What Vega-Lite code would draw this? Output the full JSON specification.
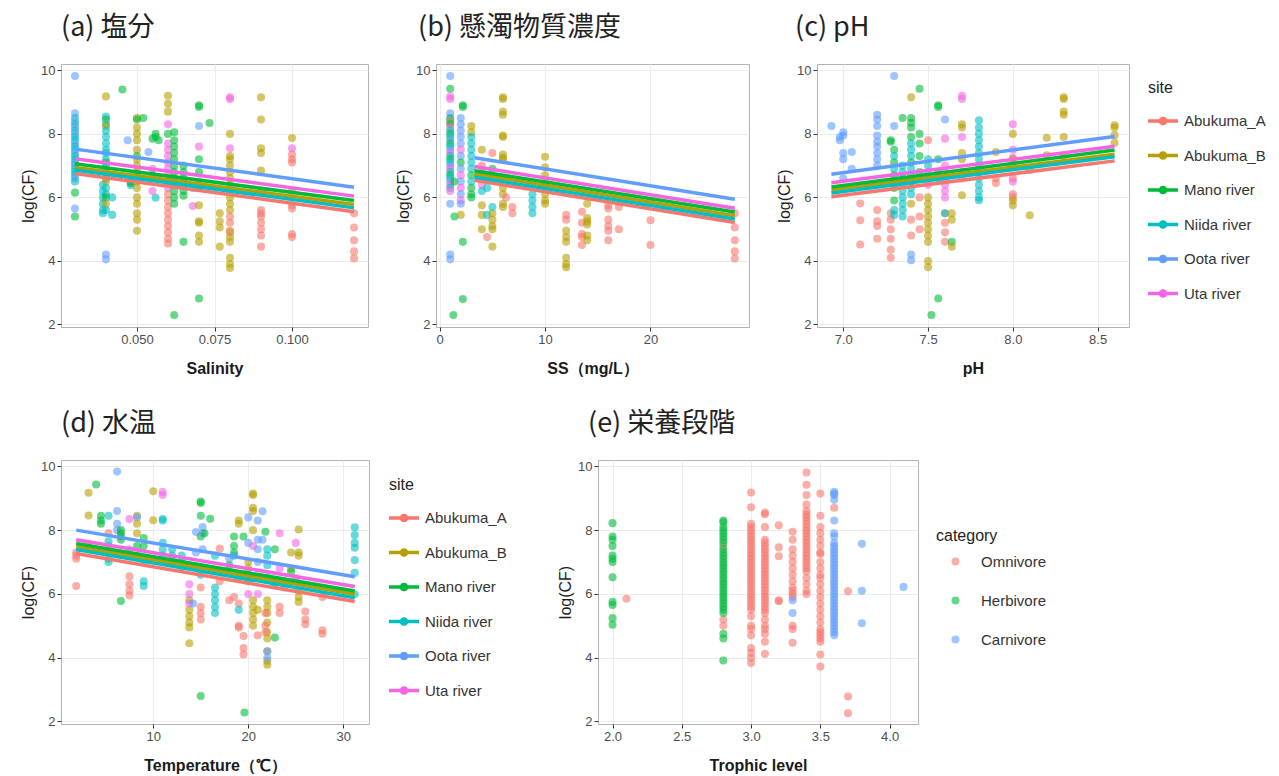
{
"$schema":"https://vega.github.io/schema/vega-lite/v6.json",
"background":"white",
"padding":{"left":20,"top":13,"right":5,"bottom":5},
"config":{
 "font":"Liberation Sans",
 "view":{"stroke":"#b3b3b3","strokeWidth":1},
 "axis":{"domain":false,"grid":true,"gridColor":"#ebebeb","gridWidth":1,"tickColor":"#333333","tickSize":4,"labelColor":"#4d4d4d","labelFontSize":13,"labelPadding":2,"titleFontSize":16,"titleColor":"#1a1a1a","titleFontWeight":"normal"},
 "axisX":{"titleFontWeight":"bold","titlePadding":14},
 "axisY":{"titlePadding":4},
 "title":{"font":"Noto Sans CJK JP","fontSize":27,"fontWeight":"normal","anchor":"start","color":"#222222","frame":"group","offset":22},
 "legend":{"titleFontSize":16,"titleFontWeight":"normal","titleColor":"#222222","labelFontSize":15,"labelColor":"#333333","titlePadding":10}
},
"datasets":{
"a_pts":[
{"x":0.03,"y":9.82,"site":"Oota river"},{"x":0.03,"y":8.65,"site":"Oota river"},{"x":0.03,"y":8.5,"site":"Niida river"},{"x":0.03,"y":8.4,"site":"Oota river"},{"x":0.03,"y":8.3,"site":"Niida river"},{"x":0.03,"y":8.2,"site":"Oota river"},{"x":0.03,"y":8.1,"site":"Niida river"},{"x":0.03,"y":8.0,"site":"Oota river"},{"x":0.03,"y":7.9,"site":"Niida river"},{"x":0.03,"y":7.8,"site":"Niida river"},{"x":0.03,"y":7.7,"site":"Oota river"},{"x":0.03,"y":7.6,"site":"Niida river"},{"x":0.03,"y":7.5,"site":"Niida river"},{"x":0.03,"y":7.4,"site":"Oota river"},{"x":0.03,"y":7.3,"site":"Niida river"},{"x":0.03,"y":7.2,"site":"Niida river"},{"x":0.03,"y":7.1,"site":"Niida river"},{"x":0.03,"y":7.0,"site":"Oota river"},{"x":0.03,"y":6.9,"site":"Niida river"},{"x":0.03,"y":6.8,"site":"Niida river"},{"x":0.03,"y":6.7,"site":"Niida river"},{"x":0.03,"y":6.6,"site":"Oota river"},{"x":0.03,"y":6.5,"site":"Niida river"},{"x":0.03,"y":6.15,"site":"Mano river"},{"x":0.03,"y":5.65,"site":"Oota river"},{"x":0.03,"y":5.4,"site":"Mano river"},
{"x":0.039,"y":6.4,"site":"Niida river"},{"x":0.039,"y":6.2,"site":"Niida river"},{"x":0.039,"y":6.0,"site":"Niida river"},{"x":0.039,"y":5.8,"site":"Niida river"},{"x":0.039,"y":5.6,"site":"Niida river"},{"x":0.039,"y":5.5,"site":"Niida river"},
{"x":0.04,"y":9.18,"site":"Abukuma_B"},{"x":0.04,"y":8.55,"site":"Niida river"},{"x":0.04,"y":8.45,"site":"Mano river"},{"x":0.04,"y":8.3,"site":"Niida river"},{"x":0.04,"y":8.25,"site":"Abukuma_B"},{"x":0.04,"y":8.1,"site":"Niida river"},{"x":0.04,"y":7.9,"site":"Niida river"},{"x":0.04,"y":7.7,"site":"Niida river"},{"x":0.04,"y":7.5,"site":"Niida river"},{"x":0.04,"y":7.4,"site":"Niida river"},{"x":0.04,"y":7.2,"site":"Niida river"},{"x":0.04,"y":7.1,"site":"Mano river"},{"x":0.04,"y":7.0,"site":"Niida river"},{"x":0.04,"y":6.8,"site":"Niida river"},{"x":0.04,"y":6.6,"site":"Niida river"},{"x":0.04,"y":6.5,"site":"Abukuma_B"},{"x":0.04,"y":6.3,"site":"Niida river"},{"x":0.04,"y":6.1,"site":"Niida river"},{"x":0.04,"y":6.0,"site":"Mano river"},{"x":0.04,"y":5.8,"site":"Abukuma_B"},{"x":0.04,"y":5.6,"site":"Niida river"},{"x":0.04,"y":4.2,"site":"Oota river"},{"x":0.04,"y":4.05,"site":"Oota river"},
{"x":0.042,"y":6.0,"site":"Niida river"},{"x":0.042,"y":5.45,"site":"Niida river"},{"x":0.0453,"y":9.4,"site":"Mano river"},{"x":0.047,"y":7.8,"site":"Oota river"},{"x":0.048,"y":6.5,"site":"Niida river"},{"x":0.048,"y":6.38,"site":"Niida river"},{"x":0.048,"y":6.45,"site":"Mano river"},
{"x":0.05,"y":8.5,"site":"Abukuma_B"},{"x":0.05,"y":8.45,"site":"Mano river"},{"x":0.05,"y":8.2,"site":"Abukuma_B"},{"x":0.05,"y":8.0,"site":"Abukuma_B"},{"x":0.05,"y":7.8,"site":"Abukuma_B"},{"x":0.05,"y":7.5,"site":"Abukuma_B"},{"x":0.05,"y":7.3,"site":"Mano river"},{"x":0.05,"y":7.2,"site":"Abukuma_B"},{"x":0.05,"y":7.0,"site":"Abukuma_B"},{"x":0.05,"y":6.8,"site":"Abukuma_B"},{"x":0.05,"y":6.7,"site":"Niida river"},{"x":0.05,"y":6.5,"site":"Abukuma_B"},{"x":0.05,"y":6.3,"site":"Abukuma_B"},{"x":0.05,"y":6.0,"site":"Abukuma_B"},{"x":0.05,"y":5.8,"site":"Abukuma_B"},{"x":0.05,"y":5.5,"site":"Abukuma_B"},{"x":0.05,"y":5.3,"site":"Abukuma_B"},{"x":0.05,"y":4.95,"site":"Abukuma_B"},
{"x":0.052,"y":8.5,"site":"Mano river"},{"x":0.0537,"y":7.43,"site":"Oota river"},{"x":0.055,"y":7.85,"site":"Mano river"},{"x":0.055,"y":6.9,"site":"Uta river"},{"x":0.055,"y":6.7,"site":"Mano river"},{"x":0.055,"y":6.2,"site":"Uta river"},{"x":0.056,"y":8.0,"site":"Mano river"},{"x":0.056,"y":5.99,"site":"Niida river"},{"x":0.056,"y":7.9,"site":"Mano river"},{"x":0.057,"y":7.8,"site":"Mano river"},{"x":0.057,"y":6.6,"site":"Abukuma_A"},
{"x":0.06,"y":9.2,"site":"Abukuma_B"},{"x":0.06,"y":8.95,"site":"Abukuma_B"},{"x":0.06,"y":8.7,"site":"Abukuma_B"},{"x":0.06,"y":8.3,"site":"Uta river"},{"x":0.06,"y":8.0,"site":"Mano river"},{"x":0.06,"y":7.7,"site":"Uta river"},{"x":0.06,"y":7.5,"site":"Uta river"},{"x":0.06,"y":7.3,"site":"Uta river"},{"x":0.06,"y":7.1,"site":"Uta river"},{"x":0.06,"y":6.9,"site":"Uta river"},{"x":0.06,"y":6.7,"site":"Uta river"},{"x":0.06,"y":6.5,"site":"Uta river"},{"x":0.06,"y":6.3,"site":"Uta river"},{"x":0.06,"y":6.1,"site":"Abukuma_A"},{"x":0.06,"y":5.9,"site":"Abukuma_A"},{"x":0.06,"y":5.7,"site":"Abukuma_A"},{"x":0.06,"y":5.5,"site":"Abukuma_A"},{"x":0.06,"y":5.3,"site":"Abukuma_A"},{"x":0.06,"y":5.1,"site":"Abukuma_A"},{"x":0.06,"y":4.9,"site":"Abukuma_A"},{"x":0.06,"y":4.7,"site":"Abukuma_A"},{"x":0.06,"y":4.55,"site":"Abukuma_A"},
{"x":0.062,"y":8.05,"site":"Mano river"},{"x":0.062,"y":7.8,"site":"Mano river"},{"x":0.062,"y":7.6,"site":"Mano river"},{"x":0.062,"y":7.4,"site":"Mano river"},{"x":0.062,"y":7.2,"site":"Mano river"},{"x":0.062,"y":7.0,"site":"Mano river"},{"x":0.062,"y":6.8,"site":"Mano river"},{"x":0.062,"y":6.6,"site":"Mano river"},{"x":0.062,"y":6.4,"site":"Mano river"},{"x":0.062,"y":6.2,"site":"Mano river"},{"x":0.062,"y":6.0,"site":"Mano river"},{"x":0.062,"y":5.8,"site":"Mano river"},{"x":0.062,"y":2.3,"site":"Mano river"},
{"x":0.065,"y":7.0,"site":"Mano river"},{"x":0.065,"y":6.8,"site":"Mano river"},{"x":0.065,"y":6.6,"site":"Mano river"},{"x":0.065,"y":6.5,"site":"Niida river"},{"x":0.065,"y":6.4,"site":"Mano river"},{"x":0.065,"y":6.2,"site":"Mano river"},{"x":0.065,"y":6.05,"site":"Mano river"},{"x":0.065,"y":4.6,"site":"Mano river"},
{"x":0.068,"y":5.73,"site":"Uta river"},{"x":0.068,"y":6.3,"site":"Niida river"},
{"x":0.07,"y":8.9,"site":"Mano river"},{"x":0.07,"y":8.85,"site":"Mano river"},{"x":0.07,"y":8.25,"site":"Oota river"},{"x":0.07,"y":7.6,"site":"Uta river"},{"x":0.07,"y":7.2,"site":"Mano river"},{"x":0.07,"y":6.8,"site":"Mano river"},{"x":0.07,"y":6.5,"site":"Uta river"},{"x":0.07,"y":6.3,"site":"Mano river"},{"x":0.07,"y":5.75,"site":"Abukuma_B"},{"x":0.07,"y":5.25,"site":"Abukuma_B"},{"x":0.07,"y":5.2,"site":"Abukuma_B"},{"x":0.07,"y":4.8,"site":"Abukuma_B"},{"x":0.07,"y":4.6,"site":"Abukuma_B"},{"x":0.07,"y":2.82,"site":"Mano river"},
{"x":0.0734,"y":8.34,"site":"Mano river"},
{"x":0.0767,"y":5.5,"site":"Abukuma_B"},{"x":0.0767,"y":5.25,"site":"Abukuma_B"},{"x":0.0767,"y":5.05,"site":"Abukuma_B"},{"x":0.0767,"y":4.45,"site":"Abukuma_B"},
{"x":0.08,"y":9.15,"site":"Uta river"},{"x":0.08,"y":9.1,"site":"Uta river"},{"x":0.08,"y":8.0,"site":"Abukuma_B"},{"x":0.08,"y":7.55,"site":"Uta river"},{"x":0.08,"y":7.3,"site":"Abukuma_B"},{"x":0.08,"y":7.2,"site":"Abukuma_B"},{"x":0.08,"y":7.0,"site":"Abukuma_B"},{"x":0.08,"y":6.8,"site":"Abukuma_B"},{"x":0.08,"y":6.6,"site":"Abukuma_B"},{"x":0.08,"y":6.4,"site":"Abukuma_B"},{"x":0.08,"y":6.2,"site":"Abukuma_B"},{"x":0.08,"y":6.0,"site":"Abukuma_B"},{"x":0.08,"y":5.8,"site":"Abukuma_B"},{"x":0.08,"y":5.6,"site":"Abukuma_B"},{"x":0.08,"y":5.4,"site":"Abukuma_A"},{"x":0.08,"y":5.2,"site":"Abukuma_A"},{"x":0.08,"y":4.95,"site":"Abukuma_B"},{"x":0.08,"y":4.9,"site":"Abukuma_A"},{"x":0.08,"y":4.75,"site":"Abukuma_B"},{"x":0.08,"y":4.6,"site":"Abukuma_B"},{"x":0.08,"y":4.1,"site":"Abukuma_B"},{"x":0.08,"y":3.9,"site":"Abukuma_B"},{"x":0.08,"y":3.78,"site":"Abukuma_B"},
{"x":0.09,"y":9.15,"site":"Abukuma_B"},{"x":0.09,"y":8.45,"site":"Abukuma_B"},{"x":0.09,"y":7.55,"site":"Abukuma_B"},{"x":0.09,"y":7.4,"site":"Abukuma_B"},{"x":0.09,"y":6.85,"site":"Abukuma_B"},{"x":0.09,"y":6.2,"site":"Abukuma_A"},{"x":0.09,"y":5.6,"site":"Abukuma_A"},{"x":0.09,"y":5.5,"site":"Abukuma_A"},{"x":0.09,"y":5.4,"site":"Abukuma_A"},{"x":0.09,"y":5.2,"site":"Abukuma_A"},{"x":0.09,"y":5.0,"site":"Abukuma_A"},{"x":0.09,"y":4.8,"site":"Abukuma_A"},{"x":0.09,"y":4.45,"site":"Abukuma_A"},
{"x":0.1,"y":7.87,"site":"Abukuma_B"},{"x":0.1,"y":7.55,"site":"Uta river"},{"x":0.1,"y":7.35,"site":"Abukuma_A"},{"x":0.1,"y":7.2,"site":"Abukuma_A"},{"x":0.1,"y":7.1,"site":"Abukuma_A"},{"x":0.1,"y":6.2,"site":"Abukuma_A"},{"x":0.1,"y":5.75,"site":"Abukuma_A"},{"x":0.1,"y":5.65,"site":"Abukuma_A"},{"x":0.1,"y":4.85,"site":"Abukuma_A"},{"x":0.1,"y":4.75,"site":"Abukuma_A"},
{"x":0.12,"y":5.5,"site":"Abukuma_A"},{"x":0.12,"y":5.05,"site":"Abukuma_A"},{"x":0.12,"y":4.65,"site":"Abukuma_A"},{"x":0.12,"y":4.3,"site":"Abukuma_A"},{"x":0.12,"y":4.08,"site":"Abukuma_A"}
],
"a_fit":[
{"x":0.03,"y":6.75,"site":"Abukuma_A"},{"x":0.12,"y":5.55,"site":"Abukuma_A"},
{"x":0.03,"y":6.94,"site":"Abukuma_B"},{"x":0.12,"y":5.78,"site":"Abukuma_B"},
{"x":0.03,"y":7.06,"site":"Mano river"},{"x":0.12,"y":5.9,"site":"Mano river"},
{"x":0.03,"y":6.86,"site":"Niida river"},{"x":0.12,"y":5.67,"site":"Niida river"},
{"x":0.03,"y":7.52,"site":"Oota river"},{"x":0.12,"y":6.32,"site":"Oota river"},
{"x":0.03,"y":7.22,"site":"Uta river"},{"x":0.12,"y":6.04,"site":"Uta river"}
],
"b_pts":[
{"x":1,"y":9.82,"site":"Oota river"},{"x":1,"y":9.42,"site":"Mano river"},{"x":1,"y":9.18,"site":"Uta river"},{"x":1,"y":9.1,"site":"Uta river"},{"x":1,"y":8.65,"site":"Oota river"},{"x":1,"y":8.5,"site":"Mano river"},{"x":1,"y":8.45,"site":"Oota river"},{"x":1,"y":8.37,"site":"Abukuma_B"},{"x":1,"y":8.3,"site":"Mano river"},{"x":1,"y":8.2,"site":"Uta river"},{"x":1,"y":8.1,"site":"Niida river"},{"x":1,"y":8.0,"site":"Mano river"},{"x":1,"y":7.9,"site":"Niida river"},{"x":1,"y":7.8,"site":"Oota river"},{"x":1,"y":7.7,"site":"Mano river"},{"x":1,"y":7.6,"site":"Niida river"},{"x":1,"y":7.5,"site":"Oota river"},{"x":1,"y":7.4,"site":"Uta river"},{"x":1,"y":7.3,"site":"Niida river"},{"x":1,"y":7.2,"site":"Mano river"},{"x":1,"y":7.1,"site":"Niida river"},{"x":1,"y":7.0,"site":"Oota river"},{"x":1,"y":6.9,"site":"Uta river"},{"x":1,"y":6.8,"site":"Niida river"},{"x":1,"y":6.7,"site":"Mano river"},{"x":1,"y":6.6,"site":"Niida river"},{"x":1,"y":6.5,"site":"Oota river"},{"x":1,"y":6.4,"site":"Uta river"},{"x":1,"y":6.3,"site":"Niida river"},{"x":1,"y":6.2,"site":"Uta river"},{"x":1,"y":5.8,"site":"Oota river"},{"x":1,"y":4.2,"site":"Oota river"},{"x":1,"y":4.05,"site":"Oota river"},
{"x":1.3,"y":2.3,"site":"Mano river"},{"x":1.4,"y":5.4,"site":"Mano river"},{"x":1.4,"y":6.5,"site":"Mano river"},
{"x":2,"y":8.5,"site":"Oota river"},{"x":2,"y":8.3,"site":"Oota river"},{"x":2,"y":8.1,"site":"Oota river"},{"x":2,"y":7.9,"site":"Oota river"},{"x":2,"y":7.7,"site":"Oota river"},{"x":2,"y":7.5,"site":"Uta river"},{"x":2,"y":7.3,"site":"Oota river"},{"x":2,"y":7.1,"site":"Mano river"},{"x":2,"y":6.9,"site":"Oota river"},{"x":2,"y":6.7,"site":"Uta river"},{"x":2,"y":6.5,"site":"Oota river"},{"x":2,"y":6.3,"site":"Uta river"},{"x":2,"y":6.1,"site":"Oota river"},{"x":2,"y":5.9,"site":"Uta river"},{"x":2,"y":5.8,"site":"Oota river"},{"x":2,"y":5.45,"site":"Abukuma_B"},
{"x":2.2,"y":8.9,"site":"Mano river"},{"x":2.2,"y":8.85,"site":"Mano river"},{"x":2.2,"y":4.6,"site":"Mano river"},{"x":2.2,"y":2.8,"site":"Mano river"},
{"x":3,"y":8.25,"site":"Abukuma_B"},{"x":3,"y":8.05,"site":"Abukuma_B"},{"x":3,"y":7.9,"site":"Niida river"},{"x":3,"y":7.7,"site":"Niida river"},{"x":3,"y":7.5,"site":"Niida river"},{"x":3,"y":7.3,"site":"Niida river"},{"x":3,"y":7.1,"site":"Niida river"},{"x":3,"y":6.9,"site":"Niida river"},{"x":3,"y":6.7,"site":"Mano river"},{"x":3,"y":6.5,"site":"Niida river"},{"x":3,"y":6.3,"site":"Mano river"},{"x":3,"y":6.1,"site":"Mano river"},{"x":3,"y":6.0,"site":"Mano river"},
{"x":4,"y":7.5,"site":"Abukuma_B"},{"x":4,"y":7.0,"site":"Abukuma_A"},{"x":4,"y":6.8,"site":"Uta river"},{"x":4,"y":6.6,"site":"Uta river"},{"x":4,"y":6.4,"site":"Uta river"},{"x":4,"y":6.2,"site":"Niida river"},{"x":4,"y":5.75,"site":"Abukuma_B"},{"x":4,"y":5.45,"site":"Abukuma_B"},{"x":4,"y":5.0,"site":"Abukuma_B"},
{"x":4.5,"y":4.75,"site":"Abukuma_A"},{"x":4.5,"y":6.3,"site":"Niida river"},{"x":4.5,"y":5.45,"site":"Niida river"},{"x":4.5,"y":6.6,"site":"Mano river"},
{"x":5,"y":7.4,"site":"Abukuma_A"},{"x":5,"y":6.9,"site":"Mano river"},{"x":5,"y":6.6,"site":"Niida river"},{"x":5,"y":5.5,"site":"Abukuma_B"},{"x":5,"y":5.3,"site":"Abukuma_B"},{"x":5,"y":5.1,"site":"Abukuma_B"},{"x":5,"y":5.0,"site":"Abukuma_B"},{"x":5,"y":4.45,"site":"Abukuma_B"},{"x":5,"y":5.7,"site":"Niida river"},
{"x":6,"y":9.15,"site":"Abukuma_B"},{"x":6,"y":9.1,"site":"Abukuma_B"},{"x":6,"y":8.7,"site":"Abukuma_B"},{"x":6,"y":8.6,"site":"Abukuma_B"},{"x":6,"y":7.95,"site":"Abukuma_B"},{"x":6,"y":7.9,"site":"Abukuma_B"},{"x":6,"y":7.35,"site":"Abukuma_B"},{"x":6,"y":7.25,"site":"Abukuma_B"},{"x":6,"y":7.2,"site":"Abukuma_B"},{"x":6,"y":6.6,"site":"Abukuma_B"},{"x":6,"y":6.3,"site":"Abukuma_B"},{"x":6,"y":6.1,"site":"Abukuma_B"},{"x":6,"y":5.8,"site":"Abukuma_B"},{"x":6,"y":5.7,"site":"Abukuma_B"},
{"x":6.3,"y":6.0,"site":"Abukuma_A"},{"x":6.9,"y":5.7,"site":"Abukuma_A"},{"x":6.9,"y":5.5,"site":"Abukuma_A"},
{"x":8.8,"y":6.1,"site":"Niida river"},{"x":8.8,"y":5.9,"site":"Niida river"},{"x":8.8,"y":5.7,"site":"Niida river"},{"x":8.8,"y":5.5,"site":"Niida river"},
{"x":10,"y":7.28,"site":"Abukuma_B"},{"x":10,"y":6.95,"site":"Abukuma_B"},{"x":10,"y":6.7,"site":"Abukuma_B"},{"x":10,"y":6.5,"site":"Abukuma_B"},{"x":10,"y":6.35,"site":"Abukuma_B"},{"x":10,"y":6.1,"site":"Abukuma_B"},{"x":10,"y":5.9,"site":"Abukuma_B"},{"x":10,"y":5.8,"site":"Abukuma_B"},
{"x":12,"y":5.45,"site":"Abukuma_A"},{"x":12,"y":5.3,"site":"Abukuma_A"},{"x":12,"y":4.95,"site":"Abukuma_B"},{"x":12,"y":4.75,"site":"Abukuma_B"},{"x":12,"y":4.6,"site":"Abukuma_B"},{"x":12,"y":4.1,"site":"Abukuma_B"},{"x":12,"y":3.9,"site":"Abukuma_B"},{"x":12,"y":3.8,"site":"Abukuma_B"},
{"x":13.5,"y":5.55,"site":"Abukuma_A"},{"x":13.5,"y":5.2,"site":"Abukuma_A"},{"x":13.5,"y":4.85,"site":"Abukuma_A"},{"x":13.5,"y":4.75,"site":"Abukuma_A"},{"x":13.5,"y":4.5,"site":"Abukuma_A"},
{"x":14,"y":5.8,"site":"Abukuma_B"},{"x":14,"y":5.35,"site":"Abukuma_B"},{"x":14,"y":5.25,"site":"Abukuma_B"},{"x":14,"y":5.15,"site":"Abukuma_B"},{"x":14,"y":4.8,"site":"Abukuma_B"},{"x":14,"y":4.65,"site":"Abukuma_B"},
{"x":16,"y":5.75,"site":"Abukuma_A"},{"x":16,"y":5.65,"site":"Abukuma_A"},{"x":16,"y":5.3,"site":"Abukuma_A"},{"x":16,"y":5.1,"site":"Abukuma_A"},{"x":16,"y":4.95,"site":"Abukuma_A"},{"x":16,"y":4.65,"site":"Abukuma_A"},
{"x":17,"y":5.7,"site":"Abukuma_A"},{"x":17,"y":5.0,"site":"Abukuma_A"},
{"x":20,"y":5.83,"site":"Abukuma_A"},{"x":20,"y":5.28,"site":"Abukuma_A"},{"x":20,"y":4.5,"site":"Abukuma_A"},
{"x":28,"y":5.5,"site":"Abukuma_A"},{"x":28,"y":5.05,"site":"Abukuma_A"},{"x":28,"y":4.65,"site":"Abukuma_A"},{"x":28,"y":4.3,"site":"Abukuma_A"},{"x":28,"y":4.08,"site":"Abukuma_A"}
],
"b_fit":[
{"x":3.3,"y":6.54,"site":"Abukuma_A"},{"x":28,"y":5.21,"site":"Abukuma_A"},
{"x":3.3,"y":6.74,"site":"Abukuma_B"},{"x":28,"y":5.42,"site":"Abukuma_B"},
{"x":3.3,"y":6.84,"site":"Mano river"},{"x":28,"y":5.54,"site":"Mano river"},
{"x":3.3,"y":6.64,"site":"Niida river"},{"x":28,"y":5.32,"site":"Niida river"},
{"x":3.3,"y":7.25,"site":"Oota river"},{"x":28,"y":5.94,"site":"Oota river"},
{"x":3.3,"y":6.97,"site":"Uta river"},{"x":28,"y":5.66,"site":"Uta river"}
],
"c_pts":[
{"x":6.93,"y":8.25,"site":"Oota river"},{"x":6.98,"y":7.9,"site":"Oota river"},{"x":6.98,"y":7.8,"site":"Oota river"},{"x":7.0,"y":8.05,"site":"Oota river"},{"x":7.0,"y":7.95,"site":"Oota river"},{"x":7.0,"y":7.4,"site":"Oota river"},{"x":7.0,"y":7.2,"site":"Oota river"},{"x":7.0,"y":6.6,"site":"Oota river"},
{"x":7.05,"y":7.43,"site":"Oota river"},{"x":7.05,"y":6.9,"site":"Oota river"},
{"x":7.1,"y":5.81,"site":"Abukuma_A"},{"x":7.1,"y":5.28,"site":"Abukuma_A"},{"x":7.1,"y":4.52,"site":"Abukuma_A"},
{"x":7.2,"y":8.6,"site":"Oota river"},{"x":7.2,"y":8.45,"site":"Oota river"},{"x":7.2,"y":8.25,"site":"Oota river"},{"x":7.2,"y":7.95,"site":"Oota river"},{"x":7.2,"y":7.75,"site":"Oota river"},{"x":7.2,"y":7.6,"site":"Oota river"},{"x":7.2,"y":7.4,"site":"Oota river"},{"x":7.2,"y":7.2,"site":"Oota river"},{"x":7.2,"y":7.0,"site":"Oota river"},{"x":7.2,"y":5.6,"site":"Abukuma_A"},{"x":7.2,"y":5.25,"site":"Abukuma_A"},{"x":7.2,"y":5.1,"site":"Abukuma_A"},{"x":7.2,"y":4.7,"site":"Abukuma_A"},
{"x":7.28,"y":7.8,"site":"Mano river"},{"x":7.28,"y":7.75,"site":"Mano river"},{"x":7.28,"y":5.5,"site":"Abukuma_A"},{"x":7.28,"y":5.3,"site":"Abukuma_A"},{"x":7.28,"y":5.0,"site":"Abukuma_A"},{"x":7.28,"y":4.7,"site":"Abukuma_A"},{"x":7.28,"y":4.35,"site":"Abukuma_A"},{"x":7.28,"y":4.1,"site":"Abukuma_A"},
{"x":7.3,"y":9.82,"site":"Oota river"},{"x":7.3,"y":8.25,"site":"Oota river"},{"x":7.3,"y":7.5,"site":"Mano river"},{"x":7.3,"y":7.3,"site":"Niida river"},{"x":7.3,"y":7.1,"site":"Mano river"},{"x":7.3,"y":6.9,"site":"Niida river"},{"x":7.3,"y":6.7,"site":"Mano river"},{"x":7.3,"y":6.5,"site":"Niida river"},{"x":7.3,"y":6.3,"site":"Mano river"},{"x":7.3,"y":5.9,"site":"Mano river"},{"x":7.3,"y":5.6,"site":"Niida river"},{"x":7.3,"y":5.45,"site":"Niida river"},
{"x":7.35,"y":8.5,"site":"Mano river"},{"x":7.35,"y":7.0,"site":"Niida river"},{"x":7.35,"y":6.8,"site":"Niida river"},{"x":7.35,"y":6.6,"site":"Niida river"},{"x":7.35,"y":6.4,"site":"Niida river"},{"x":7.35,"y":6.2,"site":"Niida river"},{"x":7.35,"y":6.0,"site":"Niida river"},{"x":7.35,"y":5.8,"site":"Niida river"},{"x":7.35,"y":5.6,"site":"Niida river"},{"x":7.35,"y":5.4,"site":"Niida river"},
{"x":7.4,"y":9.15,"site":"Abukuma_B"},{"x":7.4,"y":8.5,"site":"Mano river"},{"x":7.4,"y":8.35,"site":"Mano river"},{"x":7.4,"y":8.2,"site":"Mano river"},{"x":7.4,"y":7.7,"site":"Niida river"},{"x":7.4,"y":7.9,"site":"Mano river"},{"x":7.4,"y":7.5,"site":"Niida river"},{"x":7.4,"y":7.3,"site":"Niida river"},{"x":7.4,"y":7.1,"site":"Mano river"},{"x":7.4,"y":6.9,"site":"Niida river"},{"x":7.4,"y":6.7,"site":"Niida river"},{"x":7.4,"y":6.5,"site":"Mano river"},{"x":7.4,"y":6.3,"site":"Niida river"},{"x":7.4,"y":6.1,"site":"Niida river"},{"x":7.4,"y":5.8,"site":"Abukuma_B"},{"x":7.4,"y":5.3,"site":"Abukuma_A"},{"x":7.4,"y":4.8,"site":"Abukuma_A"},{"x":7.4,"y":4.2,"site":"Oota river"},{"x":7.4,"y":4.02,"site":"Oota river"},
{"x":7.45,"y":9.42,"site":"Mano river"},{"x":7.45,"y":8.0,"site":"Mano river"},{"x":7.45,"y":7.7,"site":"Mano river"},{"x":7.45,"y":7.3,"site":"Mano river"},{"x":7.45,"y":6.0,"site":"Abukuma_A"},{"x":7.45,"y":5.4,"site":"Abukuma_A"},{"x":7.45,"y":5.0,"site":"Abukuma_A"},{"x":7.45,"y":6.8,"site":"Mano river"},
{"x":7.5,"y":7.8,"site":"Abukuma_A"},{"x":7.5,"y":7.2,"site":"Niida river"},{"x":7.5,"y":7.0,"site":"Niida river"},{"x":7.5,"y":6.8,"site":"Uta river"},{"x":7.5,"y":6.6,"site":"Niida river"},{"x":7.5,"y":6.4,"site":"Uta river"},{"x":7.5,"y":6.0,"site":"Abukuma_B"},{"x":7.5,"y":5.8,"site":"Abukuma_B"},{"x":7.5,"y":5.6,"site":"Abukuma_B"},{"x":7.5,"y":5.4,"site":"Abukuma_B"},{"x":7.5,"y":5.2,"site":"Abukuma_B"},{"x":7.5,"y":5.0,"site":"Abukuma_B"},{"x":7.5,"y":4.8,"site":"Abukuma_B"},{"x":7.5,"y":4.6,"site":"Abukuma_B"},{"x":7.5,"y":4.0,"site":"Abukuma_B"},{"x":7.5,"y":3.8,"site":"Abukuma_B"},
{"x":7.52,"y":2.3,"site":"Mano river"},{"x":7.56,"y":2.82,"site":"Mano river"},{"x":7.56,"y":8.9,"site":"Mano river"},{"x":7.56,"y":8.85,"site":"Mano river"},{"x":7.56,"y":7.2,"site":"Mano river"},{"x":7.56,"y":6.8,"site":"Mano river"},{"x":7.56,"y":6.6,"site":"Niida river"},
{"x":7.6,"y":8.45,"site":"Oota river"},{"x":7.6,"y":7.85,"site":"Uta river"},{"x":7.6,"y":7.0,"site":"Uta river"},{"x":7.6,"y":6.8,"site":"Uta river"},{"x":7.6,"y":6.6,"site":"Uta river"},{"x":7.6,"y":6.4,"site":"Uta river"},{"x":7.6,"y":6.2,"site":"Uta river"},{"x":7.6,"y":6.0,"site":"Uta river"},{"x":7.6,"y":5.5,"site":"Abukuma_A"},{"x":7.6,"y":5.2,"site":"Abukuma_A"},{"x":7.6,"y":4.9,"site":"Abukuma_A"},{"x":7.6,"y":4.6,"site":"Abukuma_A"},{"x":7.6,"y":5.5,"site":"Niida river"},
{"x":7.64,"y":5.5,"site":"Abukuma_B"},{"x":7.64,"y":5.3,"site":"Abukuma_B"},{"x":7.64,"y":4.6,"site":"Mano river"},{"x":7.64,"y":4.45,"site":"Abukuma_B"},
{"x":7.7,"y":9.2,"site":"Uta river"},{"x":7.7,"y":9.1,"site":"Uta river"},{"x":7.7,"y":8.3,"site":"Abukuma_B"},{"x":7.7,"y":8.2,"site":"Abukuma_B"},{"x":7.7,"y":7.9,"site":"Uta river"},{"x":7.7,"y":7.4,"site":"Abukuma_B"},{"x":7.7,"y":7.2,"site":"Abukuma_B"},{"x":7.7,"y":6.8,"site":"Uta river"},{"x":7.7,"y":6.6,"site":"Uta river"},{"x":7.7,"y":6.07,"site":"Abukuma_B"},
{"x":7.8,"y":8.43,"site":"Niida river"},{"x":7.8,"y":8.2,"site":"Niida river"},{"x":7.8,"y":8.0,"site":"Niida river"},{"x":7.8,"y":7.8,"site":"Niida river"},{"x":7.8,"y":7.6,"site":"Niida river"},{"x":7.8,"y":7.4,"site":"Niida river"},{"x":7.8,"y":7.2,"site":"Niida river"},{"x":7.8,"y":7.0,"site":"Niida river"},{"x":7.8,"y":6.8,"site":"Niida river"},{"x":7.8,"y":6.6,"site":"Niida river"},{"x":7.8,"y":6.4,"site":"Niida river"},{"x":7.8,"y":6.2,"site":"Niida river"},{"x":7.8,"y":6.0,"site":"Niida river"},{"x":7.8,"y":5.91,"site":"Niida river"},
{"x":7.9,"y":7.43,"site":"Abukuma_B"},{"x":7.9,"y":6.6,"site":"Abukuma_A"},{"x":7.9,"y":6.45,"site":"Abukuma_A"},
{"x":8.0,"y":8.3,"site":"Uta river"},{"x":8.0,"y":8.0,"site":"Abukuma_B"},{"x":8.0,"y":7.5,"site":"Uta river"},{"x":8.0,"y":7.25,"site":"Uta river"},{"x":8.0,"y":7.2,"site":"Abukuma_B"},{"x":8.0,"y":7.0,"site":"Abukuma_B"},{"x":8.0,"y":6.6,"site":"Abukuma_A"},{"x":8.0,"y":6.5,"site":"Uta river"},{"x":8.0,"y":6.1,"site":"Abukuma_A"},{"x":8.0,"y":6.0,"site":"Abukuma_A"},{"x":8.0,"y":5.9,"site":"Abukuma_B"},{"x":8.0,"y":5.75,"site":"Abukuma_B"},
{"x":8.1,"y":6.86,"site":"Abukuma_B"},{"x":8.1,"y":5.44,"site":"Abukuma_B"},{"x":8.2,"y":7.88,"site":"Abukuma_B"},{"x":8.2,"y":7.33,"site":"Abukuma_B"},
{"x":8.3,"y":9.15,"site":"Abukuma_B"},{"x":8.3,"y":9.1,"site":"Abukuma_B"},{"x":8.3,"y":8.7,"site":"Abukuma_B"},{"x":8.3,"y":8.6,"site":"Abukuma_B"},{"x":8.3,"y":7.9,"site":"Abukuma_B"},{"x":8.3,"y":7.3,"site":"Abukuma_B"},
{"x":8.6,"y":8.27,"site":"Abukuma_B"},{"x":8.6,"y":8.2,"site":"Abukuma_B"},{"x":8.6,"y":7.96,"site":"Abukuma_B"},{"x":8.6,"y":7.72,"site":"Abukuma_B"}
],
"c_fit":[
{"x":6.93,"y":6.02,"site":"Abukuma_A"},{"x":8.6,"y":7.15,"site":"Abukuma_A"},
{"x":6.93,"y":6.23,"site":"Abukuma_B"},{"x":8.6,"y":7.36,"site":"Abukuma_B"},
{"x":6.93,"y":6.33,"site":"Mano river"},{"x":8.6,"y":7.49,"site":"Mano river"},
{"x":6.93,"y":6.14,"site":"Niida river"},{"x":8.6,"y":7.28,"site":"Niida river"},
{"x":6.93,"y":6.73,"site":"Oota river"},{"x":8.6,"y":7.92,"site":"Oota river"},
{"x":6.93,"y":6.46,"site":"Uta river"},{"x":8.6,"y":7.61,"site":"Uta river"}
],
"d_pts":[
{"x":1.9,"y":7.3,"site":"Abukuma_A"},{"x":1.9,"y":7.2,"site":"Abukuma_A"},{"x":1.9,"y":7.1,"site":"Abukuma_A"},{"x":1.9,"y":6.25,"site":"Abukuma_A"},
{"x":3.2,"y":9.17,"site":"Abukuma_B"},{"x":3.2,"y":8.46,"site":"Abukuma_B"},{"x":3.2,"y":7.5,"site":"Abukuma_B"},
{"x":4,"y":9.43,"site":"Mano river"},{"x":4.5,"y":8.45,"site":"Mano river"},{"x":4.5,"y":8.3,"site":"Mano river"},{"x":4.5,"y":8.2,"site":"Mano river"},
{"x":5.3,"y":8.45,"site":"Niida river"},{"x":5.3,"y":7.65,"site":"Niida river"},{"x":5.3,"y":7.5,"site":"Niida river"},{"x":5.3,"y":7.3,"site":"Niida river"},{"x":5.3,"y":7.1,"site":"Niida river"},{"x":5.3,"y":7.0,"site":"Niida river"},{"x":5.3,"y":7.9,"site":"Abukuma_A"},
{"x":6.2,"y":9.84,"site":"Oota river"},{"x":6.2,"y":8.6,"site":"Oota river"},{"x":6.2,"y":8.2,"site":"Oota river"},{"x":6.2,"y":8.0,"site":"Oota river"},
{"x":6.6,"y":5.78,"site":"Mano river"},{"x":6.6,"y":8.0,"site":"Mano river"},{"x":6.6,"y":7.8,"site":"Mano river"},{"x":6.6,"y":7.9,"site":"Mano river"},{"x":6.6,"y":7.7,"site":"Mano river"},
{"x":7.5,"y":8.35,"site":"Uta river"},{"x":7.5,"y":6.55,"site":"Abukuma_A"},{"x":7.5,"y":6.3,"site":"Abukuma_A"},{"x":7.5,"y":6.1,"site":"Abukuma_A"},{"x":7.5,"y":5.95,"site":"Abukuma_A"},{"x":7.5,"y":7.4,"site":"Uta river"},{"x":7.5,"y":7.2,"site":"Niida river"},
{"x":8.3,"y":8.45,"site":"Abukuma_B"},{"x":8.3,"y":8.4,"site":"Oota river"},{"x":8.3,"y":8.2,"site":"Abukuma_B"},{"x":8.3,"y":7.9,"site":"Abukuma_B"},{"x":8.3,"y":7.5,"site":"Mano river"},{"x":8.3,"y":7.2,"site":"Uta river"},
{"x":9,"y":7.75,"site":"Mano river"},{"x":9,"y":7.5,"site":"Mano river"},{"x":9,"y":6.4,"site":"Niida river"},{"x":9,"y":6.25,"site":"Niida river"},{"x":9,"y":7.0,"site":"Niida river"},
{"x":10,"y":9.22,"site":"Abukuma_B"},{"x":10,"y":8.31,"site":"Abukuma_B"},
{"x":11,"y":9.2,"site":"Uta river"},{"x":11,"y":9.1,"site":"Uta river"},{"x":11,"y":8.35,"site":"Niida river"},{"x":11,"y":8.3,"site":"Niida river"},{"x":11,"y":7.6,"site":"Niida river"},{"x":11,"y":7.4,"site":"Niida river"},{"x":11,"y":7.2,"site":"Niida river"},
{"x":12,"y":7.4,"site":"Niida river"},{"x":12,"y":7.2,"site":"Niida river"},{"x":12,"y":7.0,"site":"Niida river"},
{"x":13,"y":7.2,"site":"Niida river"},{"x":13,"y":7.0,"site":"Niida river"},{"x":13,"y":6.85,"site":"Niida river"},
{"x":13.8,"y":5.8,"site":"Abukuma_B"},{"x":13.8,"y":5.5,"site":"Abukuma_B"},{"x":13.8,"y":5.3,"site":"Abukuma_B"},{"x":13.8,"y":5.1,"site":"Abukuma_B"},{"x":13.8,"y":4.95,"site":"Abukuma_B"},{"x":13.8,"y":4.45,"site":"Abukuma_B"},{"x":13.8,"y":6.3,"site":"Uta river"},{"x":13.8,"y":6.0,"site":"Uta river"},{"x":13.8,"y":5.7,"site":"Uta river"},{"x":14.2,"y":5.7,"site":"Oota river"},
{"x":14.5,"y":7.94,"site":"Oota river"},{"x":14.5,"y":7.3,"site":"Oota river"},
{"x":15,"y":8.9,"site":"Mano river"},{"x":15,"y":8.85,"site":"Mano river"},{"x":15,"y":8.45,"site":"Mano river"},{"x":15,"y":7.8,"site":"Mano river"},{"x":15,"y":6.8,"site":"Mano river"},{"x":15,"y":6.2,"site":"Abukuma_A"},{"x":15,"y":5.6,"site":"Abukuma_A"},{"x":15,"y":5.4,"site":"Abukuma_A"},{"x":15,"y":5.2,"site":"Abukuma_A"},{"x":15,"y":2.8,"site":"Mano river"},{"x":15,"y":6.6,"site":"Niida river"},
{"x":15.2,"y":8.1,"site":"Oota river"},{"x":15.2,"y":7.9,"site":"Oota river"},{"x":15.2,"y":7.4,"site":"Oota river"},{"x":15.4,"y":7.9,"site":"Mano river"},
{"x":16,"y":8.36,"site":"Mano river"},
{"x":16.5,"y":6.2,"site":"Niida river"},{"x":16.5,"y":6.0,"site":"Niida river"},{"x":16.5,"y":5.8,"site":"Niida river"},{"x":16.5,"y":5.6,"site":"Niida river"},{"x":16.5,"y":5.4,"site":"Niida river"},{"x":16.5,"y":7.2,"site":"Niida river"},
{"x":17,"y":7.42,"site":"Abukuma_A"},{"x":17,"y":6.4,"site":"Abukuma_A"},
{"x":18,"y":7.1,"site":"Oota river"},{"x":18,"y":6.9,"site":"Mano river"},{"x":18,"y":5.8,"site":"Abukuma_A"},
{"x":18.5,"y":7.8,"site":"Mano river"},{"x":18.5,"y":7.5,"site":"Mano river"},{"x":18.5,"y":7.3,"site":"Mano river"},{"x":18.5,"y":7.2,"site":"Niida river"},{"x":18.5,"y":5.9,"site":"Abukuma_A"},
{"x":19,"y":8.3,"site":"Abukuma_B"},{"x":19,"y":8.2,"site":"Abukuma_B"},{"x":19,"y":5.0,"site":"Abukuma_A"},{"x":19,"y":4.95,"site":"Abukuma_A"},{"x":19,"y":5.7,"site":"Abukuma_A"},{"x":19,"y":5.5,"site":"Niida river"},{"x":19,"y":6.5,"site":"Mano river"},
{"x":19.5,"y":4.68,"site":"Abukuma_A"},{"x":19.5,"y":4.3,"site":"Abukuma_A"},{"x":19.5,"y":4.1,"site":"Abukuma_A"},{"x":19.6,"y":2.28,"site":"Mano river"},{"x":19.5,"y":7.8,"site":"Mano river"},
{"x":20,"y":8.4,"site":"Oota river"},{"x":20,"y":7.0,"site":"Abukuma_B"},{"x":20,"y":6.8,"site":"Abukuma_B"},{"x":20,"y":6.0,"site":"Uta river"},{"x":20,"y":6.6,"site":"Niida river"},{"x":20,"y":7.6,"site":"Oota river"},{"x":20,"y":6.4,"site":"Mano river"},
{"x":20.5,"y":9.15,"site":"Abukuma_B"},{"x":20.5,"y":9.1,"site":"Abukuma_B"},{"x":20.5,"y":8.7,"site":"Abukuma_B"},{"x":20.5,"y":8.6,"site":"Abukuma_B"},{"x":20.5,"y":8.0,"site":"Abukuma_B"},{"x":20.5,"y":5.6,"site":"Abukuma_B"},{"x":20.5,"y":5.4,"site":"Abukuma_B"},{"x":20.5,"y":5.2,"site":"Abukuma_B"},{"x":20.5,"y":5.0,"site":"Abukuma_B"},{"x":20.5,"y":5.8,"site":"Abukuma_B"},{"x":20.5,"y":7.5,"site":"Uta river"},
{"x":21,"y":8.3,"site":"Oota river"},{"x":21,"y":7.7,"site":"Oota river"},{"x":21,"y":7.4,"site":"Oota river"},{"x":21,"y":7.0,"site":"Oota river"},{"x":21,"y":6.0,"site":"Uta river"},{"x":21,"y":5.5,"site":"Abukuma_B"},{"x":21,"y":4.7,"site":"Abukuma_A"},{"x":21,"y":6.5,"site":"Niida river"},
{"x":21.5,"y":8.59,"site":"Oota river"},{"x":21.8,"y":7.95,"site":"Mano river"},{"x":21.5,"y":7.7,"site":"Oota river"},
{"x":22,"y":5.8,"site":"Abukuma_B"},{"x":22,"y":5.6,"site":"Abukuma_B"},{"x":22,"y":5.4,"site":"Abukuma_B"},{"x":22,"y":5.1,"site":"Abukuma_B"},{"x":22,"y":4.8,"site":"Abukuma_B"},{"x":22,"y":4.6,"site":"Abukuma_B"},{"x":22,"y":4.2,"site":"Abukuma_B"},{"x":22,"y":3.9,"site":"Abukuma_B"},{"x":22,"y":3.78,"site":"Abukuma_B"},{"x":22,"y":4.2,"site":"Oota river"},{"x":22,"y":4.0,"site":"Oota river"},{"x":21.8,"y":5.4,"site":"Abukuma_A"},{"x":21.8,"y":5.0,"site":"Abukuma_A"},{"x":21.8,"y":4.8,"site":"Abukuma_A"},{"x":22,"y":7.4,"site":"Niida river"},{"x":22,"y":7.2,"site":"Niida river"},{"x":22,"y":6.9,"site":"Niida river"},{"x":22,"y":6.5,"site":"Niida river"},
{"x":22.8,"y":4.63,"site":"Mano river"},{"x":22.8,"y":7.4,"site":"Mano river"},{"x":22.8,"y":6.3,"site":"Mano river"},
{"x":23.3,"y":7.9,"site":"Uta river"},{"x":23.3,"y":6.8,"site":"Uta river"},{"x":23.3,"y":5.6,"site":"Abukuma_A"},{"x":23.3,"y":5.4,"site":"Abukuma_A"},
{"x":23.8,"y":6.4,"site":"Uta river"},{"x":23.8,"y":6.2,"site":"Uta river"},
{"x":24.5,"y":7.3,"site":"Abukuma_B"},{"x":24.5,"y":6.8,"site":"Abukuma_B"},{"x":24.5,"y":6.7,"site":"Mano river"},
{"x":25.3,"y":8.02,"site":"Abukuma_B"},{"x":25,"y":7.6,"site":"Uta river"},{"x":25.3,"y":7.3,"site":"Abukuma_B"},{"x":25.3,"y":7.2,"site":"Abukuma_B"},{"x":25.3,"y":6.1,"site":"Abukuma_B"},{"x":25.3,"y":5.9,"site":"Abukuma_B"},{"x":25.3,"y":5.75,"site":"Abukuma_B"},{"x":25,"y":6.5,"site":"Uta river"},
{"x":26,"y":5.45,"site":"Abukuma_A"},{"x":26,"y":5.2,"site":"Abukuma_A"},{"x":26,"y":5.05,"site":"Abukuma_A"},
{"x":27.8,"y":5.9,"site":"Abukuma_A"},{"x":27.8,"y":4.86,"site":"Abukuma_A"},{"x":27.8,"y":4.75,"site":"Abukuma_A"},
{"x":31.2,"y":8.09,"site":"Niida river"},{"x":31.2,"y":7.85,"site":"Niida river"},{"x":31.2,"y":7.6,"site":"Niida river"},{"x":31.2,"y":7.45,"site":"Niida river"},{"x":31.2,"y":7.06,"site":"Niida river"},{"x":31.2,"y":6.66,"site":"Niida river"},{"x":31.2,"y":5.99,"site":"Niida river"}
],
"d_fit":[
{"x":1.9,"y":7.27,"site":"Abukuma_A"},{"x":31.2,"y":5.76,"site":"Abukuma_A"},
{"x":1.9,"y":7.48,"site":"Abukuma_B"},{"x":31.2,"y":5.99,"site":"Abukuma_B"},
{"x":1.9,"y":7.58,"site":"Mano river"},{"x":31.2,"y":6.09,"site":"Mano river"},
{"x":1.9,"y":7.39,"site":"Niida river"},{"x":31.2,"y":5.88,"site":"Niida river"},
{"x":1.9,"y":8.0,"site":"Oota river"},{"x":31.2,"y":6.54,"site":"Oota river"},
{"x":1.9,"y":7.7,"site":"Uta river"},{"x":31.2,"y":6.23,"site":"Uta river"}
],
"e_pts":[
{"x":2.0,"y":8.22,"category":"Herbivore"},{"x":2.0,"y":7.8,"category":"Herbivore"},{"x":2.0,"y":7.7,"category":"Herbivore"},{"x":2.0,"y":7.5,"category":"Herbivore"},{"x":2.0,"y":7.2,"category":"Herbivore"},{"x":2.0,"y":7.1,"category":"Herbivore"},{"x":2.0,"y":7.0,"category":"Herbivore"},{"x":2.0,"y":6.52,"category":"Herbivore"},{"x":2.0,"y":5.75,"category":"Herbivore"},{"x":2.0,"y":5.65,"category":"Herbivore"},{"x":2.0,"y":5.24,"category":"Herbivore"},{"x":2.0,"y":5.03,"category":"Herbivore"},
{"x":2.1,"y":5.85,"category":"Omnivore"},
{"x":2.8,"y":5.2,"category":"Omnivore"},{"x":2.8,"y":5.0,"category":"Omnivore"},{"x":2.8,"y":7.5,"category":"Omnivore"},
{"x":2.8,"y":8.3,"category":"Herbivore"},{"x":2.8,"y":8.25,"category":"Herbivore"},{"x":2.8,"y":8.1,"category":"Herbivore"},{"x":2.8,"y":8.0,"category":"Herbivore"},{"x":2.8,"y":7.9,"category":"Herbivore"},{"x":2.8,"y":7.8,"category":"Herbivore"},{"x":2.8,"y":7.7,"category":"Herbivore"},{"x":2.8,"y":7.6,"category":"Herbivore"},{"x":2.8,"y":7.4,"category":"Herbivore"},{"x":2.8,"y":7.3,"category":"Herbivore"},{"x":2.8,"y":7.2,"category":"Herbivore"},{"x":2.8,"y":7.1,"category":"Herbivore"},{"x":2.8,"y":7.0,"category":"Herbivore"},{"x":2.8,"y":6.9,"category":"Herbivore"},{"x":2.8,"y":6.8,"category":"Herbivore"},{"x":2.8,"y":6.7,"category":"Herbivore"},{"x":2.8,"y":6.6,"category":"Herbivore"},{"x":2.8,"y":6.5,"category":"Herbivore"},{"x":2.8,"y":6.4,"category":"Herbivore"},{"x":2.8,"y":6.3,"category":"Herbivore"},{"x":2.8,"y":6.2,"category":"Herbivore"},{"x":2.8,"y":6.1,"category":"Herbivore"},{"x":2.8,"y":6.0,"category":"Herbivore"},{"x":2.8,"y":5.9,"category":"Herbivore"},{"x":2.8,"y":5.8,"category":"Herbivore"},{"x":2.8,"y":5.7,"category":"Herbivore"},{"x":2.8,"y":5.6,"category":"Herbivore"},{"x":2.8,"y":5.5,"category":"Herbivore"},{"x":2.8,"y":5.4,"category":"Herbivore"},{"x":2.8,"y":4.75,"category":"Herbivore"},{"x":2.8,"y":4.6,"category":"Herbivore"},{"x":2.8,"y":3.91,"category":"Herbivore"},
{"x":3.0,"y":9.18,"category":"Omnivore"},{"x":3.0,"y":8.72,"category":"Omnivore"},{"x":3.0,"y":8.2,"category":"Omnivore"},{"x":3.0,"y":8.1,"category":"Omnivore"},{"x":3.0,"y":8.0,"category":"Omnivore"},{"x":3.0,"y":7.9,"category":"Omnivore"},{"x":3.0,"y":7.8,"category":"Omnivore"},{"x":3.0,"y":7.7,"category":"Omnivore"},{"x":3.0,"y":7.6,"category":"Omnivore"},{"x":3.0,"y":7.5,"category":"Omnivore"},{"x":3.0,"y":7.4,"category":"Omnivore"},{"x":3.0,"y":7.3,"category":"Omnivore"},{"x":3.0,"y":7.2,"category":"Omnivore"},{"x":3.0,"y":7.1,"category":"Omnivore"},{"x":3.0,"y":7.0,"category":"Omnivore"},{"x":3.0,"y":6.9,"category":"Omnivore"},{"x":3.0,"y":6.8,"category":"Omnivore"},{"x":3.0,"y":6.7,"category":"Omnivore"},{"x":3.0,"y":6.6,"category":"Omnivore"},{"x":3.0,"y":6.5,"category":"Omnivore"},{"x":3.0,"y":6.4,"category":"Omnivore"},{"x":3.0,"y":6.3,"category":"Omnivore"},{"x":3.0,"y":6.2,"category":"Omnivore"},{"x":3.0,"y":6.1,"category":"Omnivore"},{"x":3.0,"y":6.0,"category":"Omnivore"},{"x":3.0,"y":5.9,"category":"Omnivore"},{"x":3.0,"y":5.8,"category":"Omnivore"},{"x":3.0,"y":5.7,"category":"Omnivore"},{"x":3.0,"y":5.6,"category":"Omnivore"},{"x":3.0,"y":5.5,"category":"Omnivore"},{"x":3.0,"y":5.3,"category":"Omnivore"},{"x":3.0,"y":5.0,"category":"Omnivore"},{"x":3.0,"y":4.9,"category":"Omnivore"},{"x":3.0,"y":4.7,"category":"Omnivore"},{"x":3.0,"y":4.3,"category":"Omnivore"},{"x":3.0,"y":4.15,"category":"Omnivore"},{"x":3.0,"y":4.0,"category":"Omnivore"},{"x":3.0,"y":3.83,"category":"Omnivore"},
{"x":3.1,"y":8.55,"category":"Omnivore"},{"x":3.1,"y":8.5,"category":"Omnivore"},{"x":3.1,"y":8.1,"category":"Omnivore"},{"x":3.1,"y":7.7,"category":"Omnivore"},{"x":3.1,"y":7.6,"category":"Omnivore"},{"x":3.1,"y":7.5,"category":"Omnivore"},{"x":3.1,"y":7.4,"category":"Omnivore"},{"x":3.1,"y":7.3,"category":"Omnivore"},{"x":3.1,"y":7.2,"category":"Omnivore"},{"x":3.1,"y":7.1,"category":"Omnivore"},{"x":3.1,"y":7.0,"category":"Omnivore"},{"x":3.1,"y":6.9,"category":"Omnivore"},{"x":3.1,"y":6.8,"category":"Omnivore"},{"x":3.1,"y":6.7,"category":"Omnivore"},{"x":3.1,"y":6.6,"category":"Omnivore"},{"x":3.1,"y":6.5,"category":"Omnivore"},{"x":3.1,"y":6.4,"category":"Omnivore"},{"x":3.1,"y":6.3,"category":"Omnivore"},{"x":3.1,"y":6.2,"category":"Omnivore"},{"x":3.1,"y":6.1,"category":"Omnivore"},{"x":3.1,"y":6.0,"category":"Omnivore"},{"x":3.1,"y":5.9,"category":"Omnivore"},{"x":3.1,"y":5.8,"category":"Omnivore"},{"x":3.1,"y":5.7,"category":"Omnivore"},{"x":3.1,"y":5.6,"category":"Omnivore"},{"x":3.1,"y":5.5,"category":"Omnivore"},{"x":3.1,"y":5.4,"category":"Omnivore"},{"x":3.1,"y":5.2,"category":"Omnivore"},{"x":3.1,"y":5.0,"category":"Omnivore"},{"x":3.1,"y":4.9,"category":"Omnivore"},{"x":3.1,"y":4.75,"category":"Omnivore"},{"x":3.1,"y":4.5,"category":"Omnivore"},{"x":3.1,"y":4.12,"category":"Omnivore"},
{"x":3.2,"y":8.15,"category":"Omnivore"},{"x":3.2,"y":7.46,"category":"Omnivore"},{"x":3.2,"y":7.18,"category":"Omnivore"},{"x":3.2,"y":5.8,"category":"Omnivore"},{"x":3.2,"y":5.77,"category":"Omnivore"},
{"x":3.3,"y":7.95,"category":"Omnivore"},{"x":3.3,"y":7.7,"category":"Omnivore"},{"x":3.3,"y":7.4,"category":"Omnivore"},{"x":3.3,"y":7.2,"category":"Omnivore"},{"x":3.3,"y":7.0,"category":"Omnivore"},{"x":3.3,"y":6.8,"category":"Omnivore"},{"x":3.3,"y":6.6,"category":"Omnivore"},{"x":3.3,"y":6.4,"category":"Omnivore"},{"x":3.3,"y":6.2,"category":"Omnivore"},{"x":3.3,"y":6.1,"category":"Omnivore"},{"x":3.3,"y":6.0,"category":"Omnivore"},{"x":3.3,"y":5.9,"category":"Omnivore"},{"x":3.3,"y":5.0,"category":"Omnivore"},{"x":3.3,"y":4.9,"category":"Omnivore"},{"x":3.3,"y":4.47,"category":"Omnivore"},{"x":3.3,"y":5.4,"category":"Carnivore"},{"x":3.3,"y":5.8,"category":"Carnivore"},
{"x":3.4,"y":9.81,"category":"Omnivore"},{"x":3.4,"y":9.42,"category":"Omnivore"},{"x":3.4,"y":9.1,"category":"Omnivore"},{"x":3.4,"y":8.8,"category":"Omnivore"},{"x":3.4,"y":8.6,"category":"Omnivore"},{"x":3.4,"y":8.5,"category":"Omnivore"},{"x":3.4,"y":8.4,"category":"Omnivore"},{"x":3.4,"y":8.3,"category":"Omnivore"},{"x":3.4,"y":8.2,"category":"Omnivore"},{"x":3.4,"y":8.1,"category":"Omnivore"},{"x":3.4,"y":8.0,"category":"Omnivore"},{"x":3.4,"y":7.9,"category":"Omnivore"},{"x":3.4,"y":7.8,"category":"Omnivore"},{"x":3.4,"y":7.7,"category":"Omnivore"},{"x":3.4,"y":7.6,"category":"Omnivore"},{"x":3.4,"y":7.5,"category":"Omnivore"},{"x":3.4,"y":7.4,"category":"Omnivore"},{"x":3.4,"y":7.3,"category":"Omnivore"},{"x":3.4,"y":7.2,"category":"Omnivore"},{"x":3.4,"y":7.1,"category":"Omnivore"},{"x":3.4,"y":7.0,"category":"Omnivore"},{"x":3.4,"y":6.9,"category":"Omnivore"},{"x":3.4,"y":6.8,"category":"Omnivore"},{"x":3.4,"y":6.7,"category":"Omnivore"},{"x":3.4,"y":6.5,"category":"Omnivore"},{"x":3.4,"y":6.3,"category":"Omnivore"},{"x":3.4,"y":6.1,"category":"Omnivore"},{"x":3.4,"y":6.0,"category":"Omnivore"},
{"x":3.5,"y":9.15,"category":"Omnivore"},{"x":3.5,"y":8.45,"category":"Omnivore"},{"x":3.5,"y":8.1,"category":"Omnivore"},{"x":3.5,"y":7.9,"category":"Omnivore"},{"x":3.5,"y":7.7,"category":"Omnivore"},{"x":3.5,"y":7.5,"category":"Omnivore"},{"x":3.5,"y":7.3,"category":"Omnivore"},{"x":3.5,"y":7.25,"category":"Omnivore"},{"x":3.5,"y":7.0,"category":"Omnivore"},{"x":3.5,"y":6.8,"category":"Omnivore"},{"x":3.5,"y":6.6,"category":"Omnivore"},{"x":3.5,"y":6.5,"category":"Omnivore"},{"x":3.5,"y":6.3,"category":"Omnivore"},{"x":3.5,"y":6.1,"category":"Omnivore"},{"x":3.5,"y":5.9,"category":"Omnivore"},{"x":3.5,"y":5.7,"category":"Omnivore"},{"x":3.5,"y":5.5,"category":"Omnivore"},{"x":3.5,"y":5.3,"category":"Omnivore"},{"x":3.5,"y":5.1,"category":"Omnivore"},{"x":3.5,"y":4.9,"category":"Omnivore"},{"x":3.5,"y":4.8,"category":"Omnivore"},{"x":3.5,"y":4.7,"category":"Omnivore"},{"x":3.5,"y":4.6,"category":"Omnivore"},{"x":3.5,"y":4.5,"category":"Omnivore"},{"x":3.5,"y":4.1,"category":"Omnivore"},{"x":3.5,"y":3.72,"category":"Omnivore"},
{"x":3.6,"y":8.7,"category":"Omnivore"},
{"x":3.6,"y":9.2,"category":"Carnivore"},{"x":3.6,"y":9.15,"category":"Carnivore"},{"x":3.6,"y":9.1,"category":"Carnivore"},{"x":3.6,"y":8.95,"category":"Carnivore"},{"x":3.6,"y":8.3,"category":"Carnivore"},{"x":3.6,"y":7.9,"category":"Carnivore"},{"x":3.6,"y":7.8,"category":"Carnivore"},{"x":3.6,"y":7.6,"category":"Carnivore"},{"x":3.6,"y":7.5,"category":"Carnivore"},{"x":3.6,"y":7.4,"category":"Carnivore"},{"x":3.6,"y":7.3,"category":"Carnivore"},{"x":3.6,"y":7.2,"category":"Carnivore"},{"x":3.6,"y":7.1,"category":"Carnivore"},{"x":3.6,"y":7.0,"category":"Carnivore"},{"x":3.6,"y":6.9,"category":"Carnivore"},{"x":3.6,"y":6.8,"category":"Carnivore"},{"x":3.6,"y":6.7,"category":"Carnivore"},{"x":3.6,"y":6.6,"category":"Carnivore"},{"x":3.6,"y":6.5,"category":"Carnivore"},{"x":3.6,"y":6.4,"category":"Carnivore"},{"x":3.6,"y":6.3,"category":"Carnivore"},{"x":3.6,"y":6.2,"category":"Carnivore"},{"x":3.6,"y":6.1,"category":"Carnivore"},{"x":3.6,"y":6.0,"category":"Carnivore"},{"x":3.6,"y":5.9,"category":"Carnivore"},{"x":3.6,"y":5.8,"category":"Carnivore"},{"x":3.6,"y":5.7,"category":"Carnivore"},{"x":3.6,"y":5.6,"category":"Carnivore"},{"x":3.6,"y":5.5,"category":"Carnivore"},{"x":3.6,"y":5.4,"category":"Carnivore"},{"x":3.6,"y":5.3,"category":"Carnivore"},{"x":3.6,"y":5.2,"category":"Carnivore"},{"x":3.6,"y":5.1,"category":"Carnivore"},{"x":3.6,"y":5.0,"category":"Carnivore"},{"x":3.6,"y":4.9,"category":"Carnivore"},{"x":3.6,"y":4.8,"category":"Carnivore"},{"x":3.6,"y":4.7,"category":"Carnivore"},
{"x":3.7,"y":6.08,"category":"Omnivore"},{"x":3.7,"y":2.78,"category":"Omnivore"},{"x":3.7,"y":2.26,"category":"Omnivore"},
{"x":3.8,"y":7.57,"category":"Carnivore"},{"x":3.8,"y":6.1,"category":"Carnivore"},{"x":3.8,"y":5.08,"category":"Carnivore"},{"x":4.1,"y":6.22,"category":"Carnivore"}
]
},
"vconcat":[
{"hconcat":[
 {"width":307,"height":263,"title":{"text":"(a) 塩分","dx":0},
  "layer":[
   {"data":{"name":"a_pts"},"mark":{"type":"circle","size":65,"opacity":0.6},
    "encoding":{"x":{"field":"x","type":"quantitative","scale":{"domain":[0.0255,0.1245],"nice":false,"zero":false},"axis":{"title":"Salinity","values":[0.05,0.075,0.1],"format":".3f"}},
     "y":{"field":"y","type":"quantitative","scale":{"domain":[1.92,10.2],"nice":false,"zero":false},"axis":{"title":"log(CF)","values":[2,4,6,8,10]}},
     "color":{"field":"site","type":"nominal","scale":{"domain":["Abukuma_A","Abukuma_B","Mano river","Niida river","Oota river","Uta river"],"range":["#F8766D","#B79F00","#00BA38","#00BFC4","#619CFF","#F564E3"]},"legend":null}}},
   {"data":{"name":"a_fit"},"mark":{"type":"line","strokeWidth":3.5},
    "encoding":{"x":{"field":"x","type":"quantitative"},"y":{"field":"y","type":"quantitative"},"color":{"field":"site","type":"nominal","legend":null}}}
  ]},
 {"width":313,"height":263,"title":{"text":"(b) 懸濁物質濃度","dx":-18},
  "layer":[
   {"data":{"name":"b_pts"},"mark":{"type":"circle","size":65,"opacity":0.6},
    "encoding":{"x":{"field":"x","type":"quantitative","scale":{"domain":[-0.35,29.35],"nice":false,"zero":false},"axis":{"title":"SS（mg/L）","values":[0,10,20]}},
     "y":{"field":"y","type":"quantitative","scale":{"domain":[1.92,10.2],"nice":false,"zero":false},"axis":{"title":"log(CF)","values":[2,4,6,8,10]}},
     "color":{"field":"site","type":"nominal","scale":{"domain":["Abukuma_A","Abukuma_B","Mano river","Niida river","Oota river","Uta river"],"range":["#F8766D","#B79F00","#00BA38","#00BFC4","#619CFF","#F564E3"]},"legend":null}}},
   {"data":{"name":"b_fit"},"mark":{"type":"line","strokeWidth":3.5},
    "encoding":{"x":{"field":"x","type":"quantitative"},"y":{"field":"y","type":"quantitative"},"color":{"field":"site","type":"nominal","legend":null}}}
  ]},
 {"width":312,"height":263,"title":{"text":"(c) pH","dx":-22},
  "layer":[
   {"data":{"name":"c_pts"},"mark":{"type":"circle","size":65,"opacity":0.6},
    "encoding":{"x":{"field":"x","type":"quantitative","scale":{"domain":[6.845,8.685],"nice":false,"zero":false},"axis":{"title":"pH","values":[7,7.5,8,8.5],"format":".1f"}},
     "y":{"field":"y","type":"quantitative","scale":{"domain":[1.92,10.2],"nice":false,"zero":false},"axis":{"title":"log(CF)","values":[2,4,6,8,10]}},
     "color":{"field":"site","type":"nominal","scale":{"domain":["Abukuma_A","Abukuma_B","Mano river","Niida river","Oota river","Uta river"],"range":["#F8766D","#B79F00","#00BA38","#00BFC4","#619CFF","#F564E3"]},
      "legend":{"title":"site","orient":"none","legendX":331,"legendY":16,"symbolType":"M-1,-0.11H1V0.11H-1Z M0.29,0A0.29,0.29,0,1,1,-0.29,0A0.29,0.29,0,1,1,0.29,0Z","symbolSize":900,"symbolOpacity":1,"symbolStrokeWidth":0,"rowPadding":11.5,"labelOffset":6}}}},
   {"data":{"name":"c_fit"},"mark":{"type":"line","strokeWidth":3.5},
    "encoding":{"x":{"field":"x","type":"quantitative"},"y":{"field":"y","type":"quantitative"},"color":{"field":"site","type":"nominal"}}}
  ]}
 ],"spacing":26,
 "resolve":{"scale":{"color":"independent","x":"independent","y":"independent"},"legend":{"color":"independent"}}},
{"hconcat":[
 {"width":308,"height":264,"title":{"text":"(d) 水温","dx":0},
  "layer":[
   {"data":{"name":"d_pts"},"mark":{"type":"circle","size":65,"opacity":0.6},
    "encoding":{"x":{"field":"x","type":"quantitative","scale":{"domain":[0.3,32.7],"nice":false,"zero":false},"axis":{"title":"Temperature（℃）","values":[10,20,30]}},
     "y":{"field":"y","type":"quantitative","scale":{"domain":[1.92,10.2],"nice":false,"zero":false},"axis":{"title":"log(CF)","values":[2,4,6,8,10]}},
     "color":{"field":"site","type":"nominal","scale":{"domain":["Abukuma_A","Abukuma_B","Mano river","Niida river","Oota river","Uta river"],"range":["#F8766D","#B79F00","#00BA38","#00BFC4","#619CFF","#F564E3"]},
      "legend":{"title":"site","orient":"none","legendX":328,"legendY":17,"symbolType":"M-1,-0.11H1V0.11H-1Z M0.29,0A0.29,0.29,0,1,1,-0.29,0A0.29,0.29,0,1,1,0.29,0Z","symbolSize":900,"symbolOpacity":1,"symbolStrokeWidth":0,"rowPadding":11.5,"labelOffset":6}}}},
   {"data":{"name":"d_fit"},"mark":{"type":"line","strokeWidth":3.5},
    "encoding":{"x":{"field":"x","type":"quantitative"},"y":{"field":"y","type":"quantitative"},"color":{"field":"site","type":"nominal"}}}
  ]},
 {"width":320,"height":264,"title":{"text":"(e) 栄養段階","dx":-10},
  "data":{"name":"e_pts"},"mark":{"type":"circle","size":65,"opacity":0.6},
  "encoding":{"x":{"field":"x","type":"quantitative","scale":{"domain":[1.895,4.205],"nice":false,"zero":false},"axis":{"title":"Trophic level","values":[2,2.5,3,3.5,4],"format":".1f"}},
   "y":{"field":"y","type":"quantitative","scale":{"domain":[1.92,10.2],"nice":false,"zero":false},"axis":{"title":"log(CF)","values":[2,4,6,8,10]}},
   "color":{"field":"category","type":"nominal","scale":{"domain":["Omnivore","Herbivore","Carnivore"],"range":["#F8766D","#00BA38","#619CFF"]},
    "legend":{"title":"category","orient":"none","legendX":338,"legendY":68,"symbolType":"circle","symbolSize":65,"symbolOpacity":0.6,"symbolOffset":12,"labelOffset":18,"rowPadding":23}}}}
 ],"spacing":49,
 "resolve":{"scale":{"color":"independent","x":"independent","y":"independent"},"legend":{"color":"independent"}}}
],
"spacing":32,
"resolve":{"scale":{"color":"independent","x":"independent","y":"independent"},"legend":{"color":"independent"}}
}
